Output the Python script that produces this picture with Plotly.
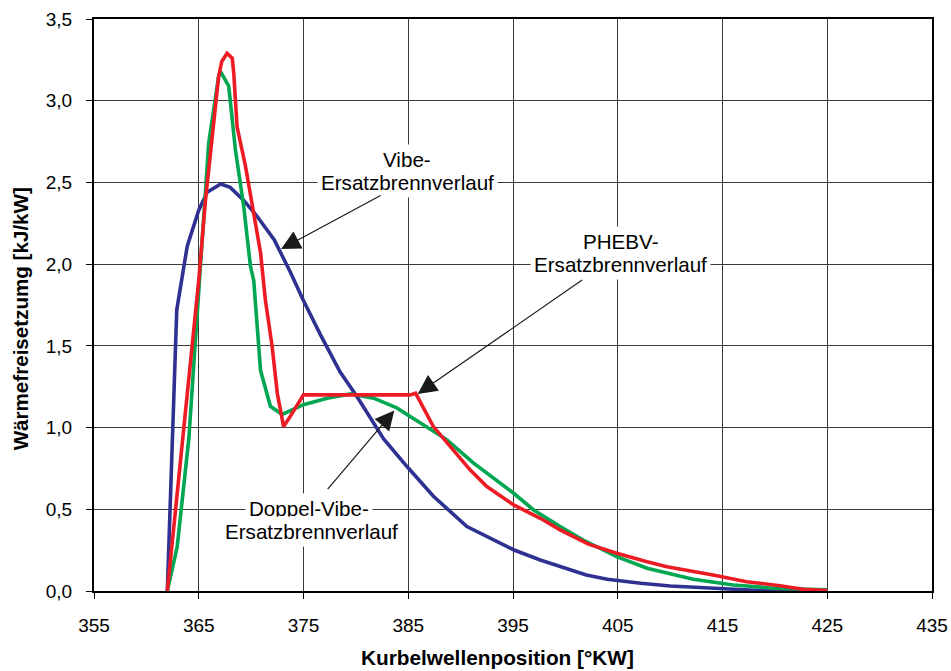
import plotly.graph_objects as go

# Vibe-Ersatzbrennverlauf (blue)
vibe_x = [362.0, 362.9, 363.9, 365.0, 365.8, 367.1, 368.0, 369.3, 370.6, 372.2, 373.75, 374.9,
          376.6, 378.5, 380.1, 382.65, 384.9, 387.4, 390.6, 393.15, 395.1, 397.6, 399.8, 402.0,
          404.0, 407.2, 410.0, 414.1, 418.5, 425.0]
vibe_y = [0.0, 1.72, 2.11, 2.33, 2.44, 2.49, 2.47, 2.39, 2.29, 2.15, 1.95, 1.79,
          1.57, 1.34, 1.19, 0.93, 0.76, 0.58, 0.394, 0.312, 0.251, 0.19, 0.145, 0.098,
          0.072, 0.047, 0.031, 0.017, 0.003, 0.0]

# Doppel-Vibe-Ersatzbrennverlauf (green)
dvibe_x = [362.0, 362.94, 364.05, 365.0, 365.64, 365.95, 366.9, 367.07, 367.86, 368.5, 369.3,
           369.93, 370.25, 370.9, 371.84, 372.96, 375.0, 377.25, 379.5, 381.7, 383.9, 386.15,
           388.7, 391.24, 392.5, 395.06, 396.97, 399.5, 401.7, 403.3, 404.9, 407.8, 410.0,
           412.2, 416.05, 419.9, 425.0]
dvibe_y = [0.0, 0.27, 0.93, 1.80, 2.39, 2.74, 3.15, 3.18, 3.09, 2.70, 2.35,
           1.99, 1.90, 1.35, 1.13, 1.08, 1.14, 1.18, 1.206, 1.18, 1.12, 1.027,
           0.925, 0.782, 0.72, 0.598, 0.496, 0.394, 0.312, 0.261, 0.21, 0.139, 0.108,
           0.072, 0.037, 0.017, 0.008]

# PHEBV-Ersatzbrennverlauf (red)
phebv_x = [362.0, 365.0, 365.64, 366.28, 366.9, 367.2, 367.7, 368.2, 368.34, 368.66, 369.46,
           370.25, 370.9, 371.36, 372.0, 372.5, 373.1, 373.75, 375.0, 385.2, 385.7, 387.4,
           389.0, 390.9, 392.5, 395.06, 397.6, 399.5, 402.2, 404.9, 407.8, 409.7, 414.1,
           417.3, 420.5, 422.7, 425.0]
phebv_y = [0.0, 1.90, 2.39, 2.80, 3.15, 3.24, 3.29, 3.26, 3.17, 2.84, 2.60,
           2.31, 2.07, 1.78, 1.50, 1.21, 1.006, 1.07, 1.20, 1.20, 1.21, 1.006,
           0.884, 0.741, 0.639, 0.527, 0.445, 0.374, 0.287, 0.231, 0.179, 0.149, 0.098,
           0.057, 0.032, 0.010, 0.002]

x_ticks = [355, 365, 375, 385, 395, 405, 415, 425, 435]
y_ticks = [0.0, 0.5, 1.0, 1.5, 2.0, 2.5, 3.0, 3.5]

FONT = "Liberation Sans, Arial, sans-serif"

fig = go.Figure()
fig.add_trace(go.Scatter(x=vibe_x, y=vibe_y, mode="lines",
                         line=dict(color="#2E3192", width=3.6), name="Vibe"))
fig.add_trace(go.Scatter(x=dvibe_x, y=dvibe_y, mode="lines",
                         line=dict(color="#00A651", width=3.6), name="Doppel-Vibe"))
fig.add_trace(go.Scatter(x=phebv_x, y=phebv_y, mode="lines",
                         line=dict(color="#ED1C24", width=3.6), name="PHEBV"))

grid = "#3a3a3a"
fig.update_xaxes(range=[355, 435], tickvals=x_ticks, ticktext=[str(v) for v in x_ticks],
                 showgrid=True, gridcolor=grid, gridwidth=1, automargin=False,
                 showline=True, linecolor="black", linewidth=2, mirror=True,
                 ticks="outside", ticklen=6, tickcolor="black", tickwidth=1,
                 ticklabelstandoff=10, zeroline=False,
                 tickfont=dict(family=FONT, size=19, color="black"))
fig.update_yaxes(range=[0, 3.5], tickvals=y_ticks, tickformat=".1f",
                 showgrid=True, gridcolor=grid, gridwidth=1, automargin=False,
                 showline=True, linecolor="black", linewidth=2, mirror=True,
                 ticks="outside", ticklen=6, tickcolor="black", tickwidth=1,
                 ticklabelstandoff=10, zeroline=False,
                 tickfont=dict(family=FONT, size=19, color="black"))

annotations = []
# axis titles
annotations.append(dict(text="<b>Kurbelwellenposition [°KW]</b>", xref="paper", yref="paper",
                        x=0.482, y=-0.117, xanchor="center", yanchor="middle", showarrow=False,
                        font=dict(family=FONT, size=20.8, color="black")))
annotations.append(dict(text="<b>Wärmefreisetzumg [kJ/kW]</b>", xref="paper", yref="paper",
                        x=-0.0877, y=0.4758, xanchor="center", yanchor="middle", showarrow=False,
                        textangle=-90, font=dict(family=FONT, size=20.6, color="black")))

# label lines (text, x, y)
labels = [
    ("Vibe-", 384.9, 2.639),
    ("Ersatzbrennverlauf", 384.9, 2.50),
    ("PHEBV-", 405.3, 2.139),
    ("Ersatzbrennverlauf", 405.3, 1.996),
    ("Doppel-Vibe-", 375.5, 0.506),
    ("Ersatzbrennverlauf", 375.8, 0.363),
]
for t, lx, ly in labels:
    annotations.append(dict(text=t, x=lx, y=ly, xref="x", yref="y", showarrow=False,
                            bgcolor="white", borderpad=3, xanchor="center", yanchor="middle",
                            font=dict(family=FONT, size=20.6, color="black")))

# arrows (head x, head y, tail x, tail y)
arrows = [
    (372.86, 2.092, 382.5, 2.425),
    (385.9, 1.206, 401.74, 1.909),
    (383.67, 1.104, 377.19, 0.614),
]
for hx, hy, tx, ty in arrows:
    annotations.append(dict(text="", x=hx, y=hy, ax=tx, ay=ty, xref="x", yref="y",
                            axref="x", ayref="y", showarrow=True, arrowhead=2,
                            arrowsize=3.2, arrowwidth=1.2, arrowcolor="#1a1a1a"))

fig.update_layout(width=951, height=671, margin=dict(l=94, r=19, t=19, b=80, autoexpand=False),
                  paper_bgcolor="white", plot_bgcolor="white", showlegend=False,
                  separators=",.", annotations=annotations,
                  font=dict(family=FONT, color="black"))

fig.write_html("out.html")
